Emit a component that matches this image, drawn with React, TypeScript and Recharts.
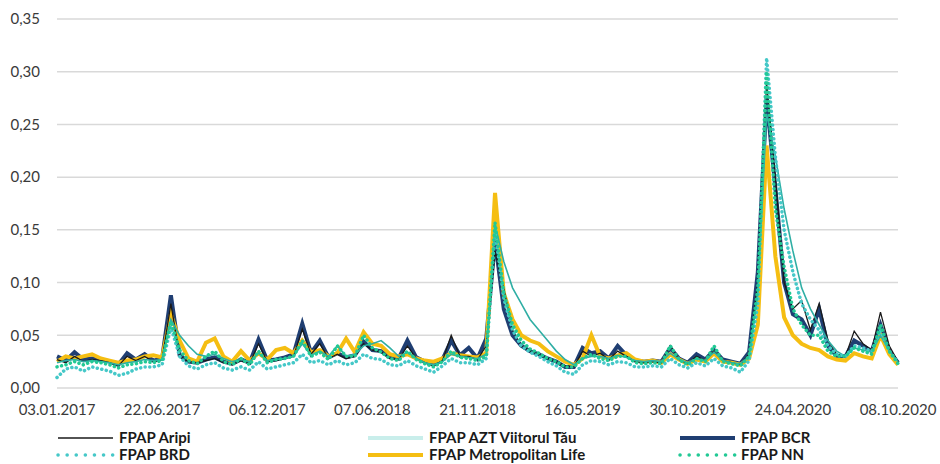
import React from 'react';
import { LineChart, Line, XAxis, YAxis, CartesianGrid } from 'recharts';

// tick labels on the date axis (one every 12 points)
const dateTicks = [
  '03.01.2017', '22.06.2017', '06.12.2017', '07.06.2018', '21.11.2018',
  '16.05.2019', '30.10.2019', '24.04.2020', '08.10.2020',
];
const yTicks = [0, 0.05, 0.1, 0.15, 0.2, 0.25, 0.3, 0.35];

// values, 97 points from 03.01.2017 to 08.10.2020
const aripi = [
  0.027, 0.024, 0.030, 0.025, 0.027, 0.026, 0.024, 0.021, 0.030, 0.026, 0.030, 0.025, 0.027,
  0.080, 0.030, 0.025, 0.024, 0.026, 0.028, 0.024, 0.022, 0.026, 0.023, 0.042, 0.025,
  0.026, 0.028, 0.030, 0.056, 0.032, 0.042, 0.028, 0.032, 0.028, 0.030, 0.042, 0.036,
  0.034, 0.028, 0.027, 0.040, 0.028, 0.024, 0.021, 0.026, 0.050, 0.030, 0.030, 0.027,
  0.040, 0.130, 0.094, 0.055, 0.040, 0.035, 0.032, 0.028, 0.025, 0.021, 0.020, 0.035,
  0.030, 0.033, 0.027, 0.035, 0.030, 0.025, 0.024, 0.025, 0.024, 0.040, 0.027, 0.023,
  0.030, 0.026, 0.035, 0.026, 0.024, 0.022, 0.032, 0.100, 0.290, 0.200, 0.100, 0.075,
  0.083, 0.055, 0.080, 0.045, 0.032, 0.030, 0.054, 0.042, 0.036, 0.072, 0.040, 0.025,
];
const azt = [
  0.024, 0.026, 0.027, 0.025, 0.026, 0.025, 0.024, 0.022, 0.024, 0.025, 0.027, 0.026, 0.027,
  0.065, 0.050, 0.040, 0.032, 0.030, 0.032, 0.028, 0.025, 0.027, 0.025, 0.033, 0.026,
  0.027, 0.028, 0.030, 0.042, 0.031, 0.035, 0.030, 0.040, 0.030, 0.032, 0.040, 0.042,
  0.045, 0.038, 0.030, 0.034, 0.028, 0.024, 0.022, 0.025, 0.032, 0.030, 0.029, 0.028,
  0.032, 0.155, 0.120, 0.095, 0.080, 0.065, 0.055, 0.045, 0.035, 0.027, 0.022, 0.028,
  0.030, 0.030, 0.028, 0.031, 0.029, 0.026, 0.025, 0.026, 0.025, 0.033, 0.027, 0.024,
  0.028, 0.026, 0.034, 0.026, 0.024, 0.023, 0.030, 0.090, 0.260, 0.220, 0.170, 0.130,
  0.095, 0.075, 0.060, 0.045, 0.035, 0.030, 0.038, 0.036, 0.034, 0.050, 0.035, 0.025,
];
const bcr = [
  0.030, 0.026, 0.034, 0.027, 0.028, 0.027, 0.025, 0.022, 0.033, 0.027, 0.032, 0.026, 0.028,
  0.088, 0.031, 0.025, 0.024, 0.027, 0.029, 0.025, 0.023, 0.027, 0.024, 0.046, 0.026,
  0.027, 0.029, 0.032, 0.061, 0.033, 0.045, 0.029, 0.033, 0.029, 0.031, 0.044, 0.036,
  0.035, 0.029, 0.028, 0.045, 0.029, 0.025, 0.022, 0.027, 0.045, 0.031, 0.038, 0.028,
  0.047, 0.140, 0.075, 0.050, 0.040, 0.035, 0.032, 0.028, 0.025, 0.020, 0.020, 0.038,
  0.033, 0.035, 0.028, 0.040, 0.031, 0.026, 0.025, 0.026, 0.025, 0.038, 0.028, 0.024,
  0.032, 0.027, 0.036, 0.027, 0.025, 0.023, 0.034, 0.110, 0.275, 0.190, 0.100, 0.070,
  0.065, 0.050, 0.075, 0.040, 0.030, 0.030, 0.045, 0.040, 0.035, 0.060, 0.035, 0.024,
];
const brd = [
  0.010, 0.018, 0.020, 0.016, 0.020, 0.018, 0.016, 0.012, 0.014, 0.018, 0.020, 0.020, 0.022,
  0.058, 0.030, 0.021, 0.018, 0.022, 0.024, 0.019, 0.017, 0.020, 0.017, 0.025, 0.018,
  0.020, 0.022, 0.024, 0.032, 0.024, 0.026, 0.022, 0.026, 0.022, 0.024, 0.032, 0.028,
  0.027, 0.022, 0.021, 0.026, 0.021, 0.018, 0.015, 0.021, 0.028, 0.024, 0.024, 0.022,
  0.028, 0.150, 0.085, 0.055, 0.040, 0.034, 0.030, 0.025, 0.021, 0.015, 0.013, 0.022,
  0.026, 0.025, 0.022, 0.025, 0.024, 0.020, 0.020, 0.021, 0.020, 0.028, 0.022, 0.019,
  0.024, 0.021, 0.028, 0.021, 0.019, 0.015, 0.026, 0.080, 0.313, 0.220, 0.150, 0.110,
  0.080, 0.065, 0.055, 0.040, 0.032, 0.030, 0.040, 0.038, 0.035, 0.055, 0.035, 0.024,
];
const metropolitan = [
  0.025, 0.030, 0.028, 0.030, 0.032, 0.028, 0.026, 0.024, 0.026, 0.027, 0.030, 0.031, 0.029,
  0.070, 0.045, 0.028, 0.025, 0.043, 0.047, 0.030, 0.025, 0.035, 0.026, 0.033, 0.027,
  0.036, 0.038, 0.033, 0.045, 0.034, 0.036, 0.030, 0.033, 0.047, 0.034, 0.053, 0.042,
  0.040, 0.032, 0.030, 0.032, 0.028, 0.026, 0.025, 0.028, 0.033, 0.031, 0.030, 0.029,
  0.033, 0.185, 0.090, 0.065, 0.050, 0.045, 0.042, 0.035, 0.030, 0.025, 0.022, 0.028,
  0.050, 0.030, 0.028, 0.031, 0.033, 0.027, 0.025, 0.026, 0.024, 0.032, 0.027, 0.023,
  0.027, 0.025, 0.033, 0.025, 0.024, 0.022, 0.028, 0.060, 0.230, 0.125, 0.067, 0.050,
  0.042, 0.038, 0.036, 0.030, 0.027, 0.026, 0.033, 0.030, 0.028, 0.050, 0.032, 0.022,
];
const nn = [
  0.020, 0.022, 0.025, 0.022, 0.025, 0.024, 0.022, 0.019, 0.022, 0.023, 0.025, 0.024, 0.026,
  0.063, 0.036, 0.026, 0.023, 0.030, 0.035, 0.025, 0.022, 0.028, 0.022, 0.035, 0.024,
  0.027, 0.028, 0.030, 0.045, 0.030, 0.034, 0.027, 0.040, 0.030, 0.030, 0.050, 0.038,
  0.034, 0.028, 0.026, 0.035, 0.027, 0.023, 0.020, 0.025, 0.035, 0.029, 0.028, 0.026,
  0.030, 0.157, 0.090, 0.060, 0.045, 0.037, 0.033, 0.028, 0.025, 0.020, 0.020, 0.028,
  0.032, 0.028, 0.026, 0.030, 0.030, 0.024, 0.023, 0.024, 0.023, 0.040, 0.027, 0.022,
  0.028, 0.025, 0.040, 0.025, 0.023, 0.021, 0.030, 0.095, 0.300, 0.170, 0.115, 0.075,
  0.060, 0.050, 0.050, 0.035, 0.030, 0.030, 0.038, 0.035, 0.032, 0.060, 0.035, 0.023,
];

const POINTS_PER_TICK = 12;

const data = aripi.map((v, i) => ({
  i,
  aripi: v,
  azt: azt[i],
  bcr: bcr[i],
  brd: brd[i],
  metropolitan: metropolitan[i],
  nn: nn[i],
}));

const legendItems = [
  { name: 'FPAP Aripi', color: '#1a1a1a', width: 1.5, dotted: false, x: 58, row: 0 },
  { name: 'FPAP BRD', color: '#45c8c8', width: 3.5, dotted: true, x: 58, row: 1 },
  { name: 'FPAP AZT Viitorul Tău', color: '#c9eeeb', width: 4, dotted: false, x: 368, row: 0 },
  { name: 'FPAP Metropolitan Life', color: '#f5be12', width: 4, dotted: false, x: 368, row: 1 },
  { name: 'FPAP BCR', color: '#1f3e72', width: 4, dotted: false, x: 680, row: 0 },
  { name: 'FPAP NN', color: '#22c995', width: 3.5, dotted: true, x: 680, row: 1 },
];

const font = 'Lato, "Open Sans", sans-serif';
const fmt = (v: number) => v.toFixed(2).replace('.', ',');

const App: React.FC = () => {
  return (
    <div style={{ position: 'absolute', left: 0, top: 0, width: 940, height: 464, background: '#fff', fontFamily: font }}>
      <LineChart width={940} height={464} data={data} margin={{ top: 19, right: 42, left: 10, bottom: 46 }}>
        <CartesianGrid vertical={false} stroke="#d9d9d9" strokeWidth={1.5} />
        <XAxis
          dataKey="i"
          type="number"
          domain={[0, (dateTicks.length - 1) * POINTS_PER_TICK]}
          ticks={dateTicks.map((_, k) => k * POINTS_PER_TICK)}
          tickFormatter={(v: number) => dateTicks[Math.round(v / POINTS_PER_TICK)]}
          interval={0}
          axisLine={false}
          tickLine={false}
          tickSize={0}
          tickMargin={16}
          height={30}
          tick={{ fill: '#3a3a3a', fontSize: 15, fontFamily: font }}
        />
        <YAxis
          domain={[0, 0.35]}
          ticks={yTicks}
          tickFormatter={fmt}
          axisLine={false}
          tickLine={false}
          tickSize={0}
          tickMargin={17}
          width={47}
          tick={{ fill: '#3a3a3a', fontSize: 15, fontFamily: font }}
        />
        <Line dataKey="bcr" stroke="#1f3e72" strokeWidth={4} dot={false} isAnimationActive={false} />
        <Line dataKey="metropolitan" stroke="#f5be12" strokeWidth={4} dot={false} isAnimationActive={false} />
        <Line dataKey="aripi" stroke="#1a1a1a" strokeWidth={1.3} dot={false} isAnimationActive={false} />
        <Line dataKey="azt" stroke="#2faea4" strokeWidth={1.6} dot={false} isAnimationActive={false} />
        <Line dataKey="brd" stroke="#45c8c8" strokeWidth={3.5} strokeDasharray="0.1 4.5" strokeLinecap="round" dot={false} isAnimationActive={false} />
        <Line dataKey="nn" stroke="#22c995" strokeWidth={3.5} strokeDasharray="0.1 4.5" strokeLinecap="round" dot={false} isAnimationActive={false} />
      </LineChart>

      {/* legend: three columns, two rows */}
      <svg width={940} height={44} style={{ position: 'absolute', left: 0, top: 420 }}>
        {legendItems.map((it) => {
          const y = 18 + it.row * 17;
          return (
            <g key={it.name}>
              <line
                x1={it.x}
                x2={it.x + 55}
                y1={y}
                y2={y}
                stroke={it.color}
                strokeWidth={it.width}
                strokeDasharray={it.dotted ? '0.1 9' : undefined}
                strokeLinecap={it.dotted ? 'round' : 'butt'}
              />
              <text x={it.x + 61} y={y + 5} fontSize={15} fontWeight={700} fill="#1a1a1a" fontFamily={font}>
                {it.name}
              </text>
            </g>
          );
        })}
      </svg>
    </div>
  );
};

export default App;
